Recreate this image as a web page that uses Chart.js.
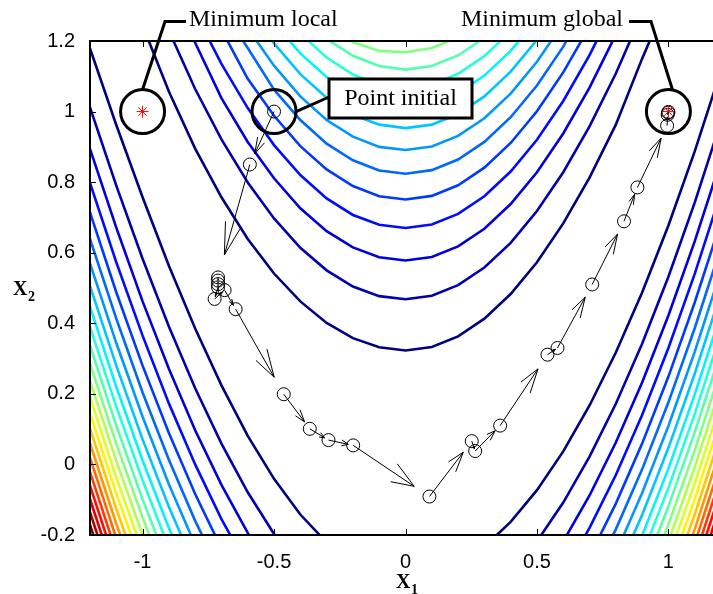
<!DOCTYPE html>
<html>
<head>
<meta charset="utf-8">
<script src="https://cdn.jsdelivr.net/npm/chart.js@4.4.0/dist/chart.umd.min.js"></script>
<style>
html, body { margin: 0; padding: 0; background: #fff; overflow: hidden; }
#wrap { width: 740px; height: 594px; }
</style>
</head>
<body>
<div id="wrap"><canvas id="myChart" width="740" height="594"></canvas></div>
<script>
// contour columns (x1) and level values
const xGrid = [-1.2, -1.1, -1.0, -0.9, -0.8, -0.7, -0.6, -0.5, -0.4, -0.3, -0.2, -0.1, 0,
               0.1, 0.2, 0.3, 0.4, 0.5, 0.6, 0.7, 0.8, 0.9, 1.0, 1.1, 1.2];

// upper (U shaped) branches, first value sits at column upperStart[k]
const upperStart = [2, 3, 3, 4, 5, 5, 6, 6, 7, 8, 9, 9];
const upperBranch = [
    [1.244, 1.057, 0.895, 0.757, 0.639, 0.541, 0.462, 0.401, 0.358, 0.332, 0.323, 0.333, 0.363, 0.413, 0.483, 0.573, 0.683, 0.813, 0.963, 1.150, 1.323],
    [1.229, 1.064, 0.921, 0.799, 0.697, 0.614, 0.550, 0.504, 0.477, 0.468, 0.478, 0.508, 0.558, 0.628, 0.718, 0.828, 0.958, 1.108, 1.278],
    [1.349, 1.195, 1.038, 0.914, 0.811, 0.726, 0.661, 0.615, 0.587, 0.578, 0.588, 0.618, 0.668, 0.738, 0.828, 0.938, 1.068, 1.218],
    [1.280, 1.135, 1.010, 0.905, 0.820, 0.754, 0.707, 0.679, 0.670, 0.680, 0.710, 0.760, 0.830, 0.920, 1.030, 1.160, 1.310],
    [1.232, 1.093, 0.988, 0.902, 0.836, 0.789, 0.760, 0.751, 0.761, 0.791, 0.841, 0.911, 1.001, 1.111, 1.241],
    [1.293, 1.180, 1.062, 0.976, 0.909, 0.862, 0.833, 0.824, 0.834, 0.864, 0.914, 0.984, 1.074, 1.184, 1.314],
    [1.236, 1.130, 1.043, 0.976, 0.929, 0.900, 0.891, 0.901, 0.931, 0.981, 1.051, 1.141, 1.251],
    [1.299, 1.193, 1.106, 1.039, 0.991, 0.963, 0.953, 0.963, 0.993, 1.043, 1.113, 1.203],
    [1.252, 1.165, 1.098, 1.050, 1.021, 1.012, 1.022, 1.052, 1.102, 1.172, 1.262],
    [1.221, 1.153, 1.105, 1.076, 1.067, 1.077, 1.107, 1.157, 1.227],
    [1.206, 1.158, 1.129, 1.119, 1.129, 1.159, 1.209],
    [1.262, 1.197, 1.172, 1.168, 1.180, 1.210]
];

// lower branches on the left side, starting at x1 = -1.2
const lowerLeft = [
    [1.179, 0.962, 0.757, 0.563, 0.385, 0.224, 0.081, -0.041, -0.142, -0.221],
    [1.012, 0.790, 0.583, 0.391, 0.216, 0.059, -0.079, -0.197, -0.294],
    [0.894, 0.671, 0.462, 0.271, 0.097, -0.058, -0.194, -0.311],
    [0.798, 0.573, 0.365, 0.173, 0.000, -0.155, -0.290],
    [0.714, 0.488, 0.280, 0.089, -0.084, -0.238],
    [0.639, 0.413, 0.204, 0.013, -0.160, -0.313],
    [0.570, 0.344, 0.135, -0.056, -0.228],
    [0.506, 0.280, 0.071, -0.120, -0.292],
    [0.447, 0.220, 0.011, -0.180, -0.352],
    [0.390, 0.164, -0.045, -0.236],
    [0.337, 0.110, -0.099, -0.290],
    [0.286, 0.059, -0.150, -0.341],
    [0.237, 0.010, -0.199, -0.390],
    [0.191, -0.037, -0.246],
    [0.145, -0.082, -0.291],
    [0.102, -0.126, -0.335],
    [0.060, -0.168, -0.377],
    [0.019, -0.209],
    [-0.021, -0.249],
    [-0.060, -0.288],
    [-0.098, -0.326],
    [-0.135, -0.363],
    [-0.171, -0.399]
];

// lower branches on the right side, ending at x1 = 1.2
const lowerRight = [
    [-0.233, -0.163, -0.073, 0.037, 0.167, 0.317, 0.487, 0.677, 0.887, 1.117],
    [-0.218, -0.108, 0.022, 0.172, 0.342, 0.532, 0.742, 0.972],
    [-0.218, -0.088, 0.062, 0.232, 0.422, 0.632, 0.862],
    [-0.310, -0.180, -0.030, 0.140, 0.330, 0.540, 0.770],
    [-0.261, -0.111, 0.059, 0.249, 0.459, 0.689],
    [-0.334, -0.184, -0.014, 0.176, 0.386, 0.616],
    [-0.251, -0.081, 0.109, 0.319, 0.549],
    [-0.313, -0.143, 0.047, 0.257, 0.487],
    [-0.372, -0.202, -0.012, 0.198, 0.428],
    [-0.257, -0.067, 0.143, 0.373],
    [-0.309, -0.119, 0.091, 0.321],
    [-0.360, -0.170, 0.040, 0.270],
    [-0.218, -0.008, 0.222],
    [-0.264, -0.054, 0.176],
    [-0.309, -0.099, 0.132],
    [-0.352, -0.142, 0.088],
    [-0.394, -0.184, 0.047],
    [-0.224, 0.006],
    [-0.264, -0.034],
    [-0.302, -0.072],
    [-0.340, -0.110],
    [-0.376, -0.146],
    [-0.412, -0.182]
];

// optimisation path (iterates)
const pathX1 = [-0.5, -0.592, -0.713, -0.713, -0.713, -0.713, -0.726, -0.688, -0.646, -0.463, -0.364, -0.293, -0.199,
                0.091, 0.252, 0.265, 0.360, 0.540, 0.578, 0.710, 0.831, 0.882, 0.995, 0.997, 0.999, 1.0];
const pathX2 = [1.0, 0.850, 0.530, 0.521, 0.511, 0.502, 0.469, 0.494, 0.440, 0.199, 0.101, 0.069, 0.054,
                -0.091, 0.066, 0.038, 0.110, 0.311, 0.330, 0.510, 0.689, 0.785, 0.960, 0.991, 0.997, 0.999];

const minimaX1 = [-1, 1];
const minimaX2 = [1, 1];

const xTicks = [-1, -0.5, 0, 0.5, 1];
const yTicks = [-0.2, 0, 0.2, 0.4, 0.6, 0.8, 1, 1.2];

const arrowScale = 0.8;
const headAlpha = 0.33, headBeta = 0.33;

function jet(t) {
    const c = v => Math.max(0, Math.min(1, v));
    const r = c(1.5 - Math.abs(4 * t - 3));
    const g = c(1.5 - Math.abs(4 * t - 2));
    const b = c(1.5 - Math.abs(4 * t - 1));
    return 'rgb(' + Math.round(r * 255) + ',' + Math.round(g * 255) + ',' + Math.round(b * 255) + ')';
}

function contourSet(points, color) {
    return {
        data: points,
        showLine: true,
        borderColor: color,
        borderWidth: 2.6,
        pointRadius: 0,
        pointHoverRadius: 0,
        fill: false,
        tension: 0,
        clip: 1,
        order: 10
    };
}

const datasets = [];
const nLevels = lowerLeft.length;
for (let k = 0; k < nLevels; k++) {
    const color = jet(k / (nLevels - 1));
    datasets.push(contourSet(lowerLeft[k].map((y, i) => ({x: xGrid[i], y: y})), color));
    const off = xGrid.length - lowerRight[k].length;
    datasets.push(contourSet(lowerRight[k].map((y, i) => ({x: xGrid[off + i], y: y})), color));
    if (k < upperBranch.length) {
        datasets.push(contourSet(upperBranch[k].map((y, i) => ({x: xGrid[upperStart[k] + i], y: y})), color));
    }
}

datasets.push({
    data: pathX1.map((x, i) => ({x: x, y: pathX2[i]})),
    showLine: false,
    pointStyle: 'circle',
    pointRadius: 6.5,
    pointBorderWidth: 1,
    pointBorderColor: '#000',
    pointBackgroundColor: 'rgba(0,0,0,0)',
    order: 2
});

datasets.push({
    data: minimaX1.map((x, i) => ({x: x, y: minimaX2[i]})),
    showLine: false,
    pointStyle: 'star',
    pointRadius: 6,
    pointBorderWidth: 1,
    pointBorderColor: '#ff0000',
    pointBackgroundColor: '#ff0000',
    order: 1
});

const overlay = {
    id: 'overlay',
    afterDraw(chart) {
        const ctx = chart.ctx;
        const xs = chart.scales.x, ys = chart.scales.y;
        const a = chart.chartArea;
        const P = (x, y) => [xs.getPixelForValue(x), ys.getPixelForValue(y)];
        ctx.save();

        // arrows between iterates
        ctx.strokeStyle = '#000';
        ctx.lineWidth = 1;
        for (let i = 0; i + 1 < pathX1.length; i++) {
            const x0 = pathX1[i], y0 = pathX2[i];
            const u = (pathX1[i + 1] - x0) * arrowScale;
            const v = (pathX2[i + 1] - y0) * arrowScale;
            const tx = x0 + u, ty = y0 + v;
            const p0 = P(x0, y0), pt = P(tx, ty);
            const h1 = P(tx - headAlpha * (u + headBeta * v), ty - headAlpha * (v - headBeta * u));
            const h2 = P(tx - headAlpha * (u - headBeta * v), ty - headAlpha * (v + headBeta * u));
            ctx.beginPath();
            ctx.moveTo(p0[0], p0[1]);
            ctx.lineTo(pt[0], pt[1]);
            ctx.moveTo(h1[0], h1[1]);
            ctx.lineTo(pt[0], pt[1]);
            ctx.lineTo(h2[0], h2[1]);
            ctx.stroke();
        }

        // axes box and inner ticks
        ctx.lineWidth = 2;
        ctx.strokeRect(a.left, a.top, a.right - a.left, a.bottom - a.top);
        ctx.lineWidth = 1;
        ctx.beginPath();
        xTicks.forEach(t => {
            const p = Math.round(xs.getPixelForValue(t)) + 0.5;
            ctx.moveTo(p, a.bottom); ctx.lineTo(p, a.bottom - 6);
            ctx.moveTo(p, a.top); ctx.lineTo(p, a.top + 6);
        });
        yTicks.forEach(t => {
            const p = Math.round(ys.getPixelForValue(t)) + 0.5;
            ctx.moveTo(a.left, p); ctx.lineTo(a.left + 6, p);
            ctx.moveTo(a.right, p); ctx.lineTo(a.right - 6, p);
        });
        ctx.stroke();

        // callouts
        ctx.lineWidth = 3;
        ctx.strokeStyle = '#000';
        const ring = (c) => { ctx.beginPath(); ctx.arc(c[0], c[1], 22, 0, 2 * Math.PI); ctx.stroke(); };
        const loc = P(-1, 1), glob = P(1, 1), init = P(-0.5, 1);
        ring(loc); ring(glob); ring(init);

        ctx.beginPath();
        ctx.moveTo(186, 21.5); ctx.lineTo(165, 21.5); ctx.lineTo(loc[0], loc[1] - 22);
        ctx.moveTo(629, 21.5); ctx.lineTo(651, 21.5); ctx.lineTo(glob[0] + 4, glob[1] - 22);
        ctx.moveTo(init[0] + 22, init[1]); ctx.lineTo(329, 97);
        ctx.stroke();

        ctx.fillStyle = '#fff';
        ctx.fillRect(329, 79, 143, 39);
        ctx.strokeRect(329, 79, 143, 39);

        ctx.fillStyle = '#000';
        ctx.font = '24px "Liberation Serif", "Times New Roman", serif';
        ctx.textBaseline = 'middle';
        ctx.textAlign = 'left';
        ctx.fillText('Minimum local', 189, 20);
        ctx.textAlign = 'right';
        ctx.fillText('Minimum global', 623, 20);
        ctx.textAlign = 'center';
        ctx.fillText('Point initial', 400.5, 99);

        // axis titles with subscripts
        ctx.textAlign = 'left';
        ctx.textBaseline = 'alphabetic';
        ctx.font = 'bold 20px "Liberation Serif", "Times New Roman", serif';
        ctx.fillText('X', 396, 588);
        ctx.fillText('X', 13, 295);
        ctx.font = 'bold 14px "Liberation Serif", "Times New Roman", serif';
        ctx.fillText('1', 411, 594);
        ctx.fillText('2', 28, 301);

        ctx.restore();
    }
};

const tickFont = {family: '"Liberation Sans", Arial, Helvetica, sans-serif', size: 20};

window.myChart = new Chart(document.getElementById('myChart').getContext('2d'), {
    type: 'scatter',
    data: {datasets: datasets},
    options: {
        responsive: false,
        animation: false,
        devicePixelRatio: 1,
        events: [],
        layout: {padding: {top: 41, right: 19, left: 0, bottom: 0}},
        plugins: {legend: {display: false}, tooltip: {enabled: false}},
        scales: {
            x: {
                type: 'linear',
                min: -1.2,
                max: 1.2,
                grid: {display: false},
                border: {display: false},
                afterBuildTicks: s => { s.ticks = xTicks.map(v => ({value: v})); },
                afterFit: s => { s.height = 59; },
                ticks: {font: tickFont, color: '#000', padding: 7, maxRotation: 0, autoSkip: false,
                        callback: v => String(v)}
            },
            y: {
                type: 'linear',
                min: -0.2,
                max: 1.2,
                grid: {display: false},
                border: {display: false},
                afterBuildTicks: s => { s.ticks = yTicks.map(v => ({value: v})); },
                afterFit: s => { s.width = 90; },
                ticks: {font: tickFont, color: '#000', padding: 7, autoSkip: false,
                        callback: v => String(v)}
            }
        }
    },
    plugins: [overlay]
});
</script>
</body>
</html>
